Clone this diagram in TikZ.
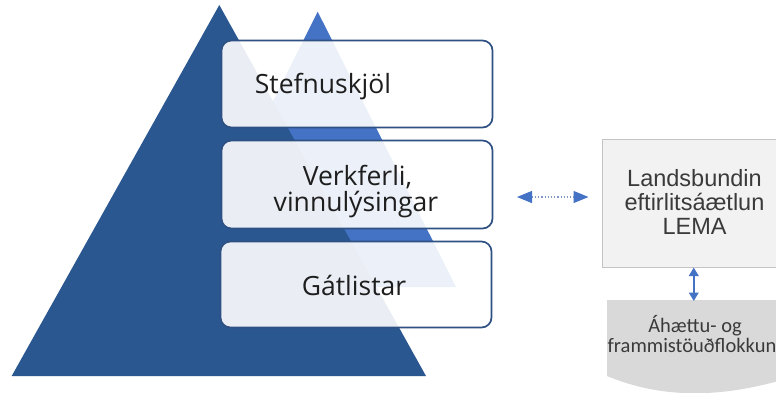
\documentclass[tikz,border=0pt]{standalone}
\usepackage{fontspec}
\setmainfont{Open Sans}
\newfontfamily\arialf{Liberation Sans}
\newfontfamily\calf{Carlito}
\usetikzlibrary{arrows.meta}
\definecolor{darkblue}{HTML}{2B5791}
\definecolor{lightblue}{HTML}{4472C4}
\definecolor{boxborder}{HTML}{2F5083}
\definecolor{lemafill}{HTML}{F2F2F2}
\definecolor{lemaborder}{HTML}{C4C4C4}
\definecolor{docfill}{HTML}{D9D9D9}
\definecolor{dotline}{HTML}{7F97C4}
\definecolor{tiertext}{HTML}{1E1E1E}
\definecolor{graytext}{HTML}{3A3A3A}
\tikzset{
  tipH/.tip={Triangle[length=15pt,width=12pt,color=lightblue]},
  tipV/.tip={Triangle[length=8.5pt,width=9.5pt,color=lightblue]}}
\begin{document}
\begin{tikzpicture}[x=1pt,y=-1pt,
  tier/.style={draw=boxborder, line width=1.7pt, rounded corners=10pt,
    fill=white, fill opacity=0.9, text opacity=1, inner sep=0pt,
    minimum width=271pt},
  tiertxt/.style={anchor=base, inner sep=0pt, text=tiertext,
    font=\fontsize{26.5}{23}\selectfont},
  lematxt/.style={anchor=base, inner sep=0pt, text=graytext,
    font=\arialf\fontsize{23.5}{24}\selectfont},
  doctxt/.style={anchor=base, inner sep=0pt, text=graytext,
    font=\calf\fontsize{20.5}{20}\selectfont}]
\useasboundingbox (0,0) rectangle (776,392);
\fill[white] (0,0) rectangle (776,392);
\clip (0,0) rectangle (776,392);
% pyramid
\fill[lightblue] (317.7,11.7) -- (456,287) -- (180,287) -- cycle;
\fill[darkblue] (219.3,5) -- (426,376) -- (11.7,376) -- cycle;
% tiers
\node[tier, minimum height=87pt] (t1) at (357,84) {};
\node[tier, minimum height=88pt] (t2) at (357,184.5) {};
\node[tier, minimum height=86pt] (t3) at (356,284.5) {};
\node[tiertxt] (t1a) at (323,93) {Stefnuskjöl};
\node[tiertxt] (t2a) at (357.5,185.5) {Verkferli,};
\node[tiertxt] (t2b) at (356,211) {vinnulýsingar};
\node[tiertxt] (t3a) at (354,295) {Gátlistar};
% LEMA box
\node[draw=lemaborder, line width=1pt, fill=lemafill, inner sep=0pt,
  minimum width=182.5pt, minimum height=127.5pt] (lema) at (693.75,203.25) {};
\node[lematxt] (l1) at (694.5,186.7) {Landsbundin};
\node[lematxt] (l2) at (694.5,210.7) {eftirlitsáætlun};
\node[lematxt] (l3) at (694.5,234.5) {LEMA};
% document shape
\fill[docfill] (607,300) -- (795,300) -- (795,376)
  .. controls (720,400) and (660,398) .. (607,376) -- cycle;
\coordinate (doctop) at (693.75,301);
\node[doctxt] (d1) at (695,332) {Áhættu- og};
\node[doctxt] (d2) at (692,352) {frammistöuðflokkun};
% connectors
\coordinate (hl) at (517,197);
\coordinate (hr) at (588.5,197);
\draw[dotline, line width=1.2pt, dotted, tipH-tipH] (hl) -- (hr);
\draw[lightblue, line width=2pt, tipV-tipV] (lema.south) -- (doctop);
\end{tikzpicture}
\end{document}
